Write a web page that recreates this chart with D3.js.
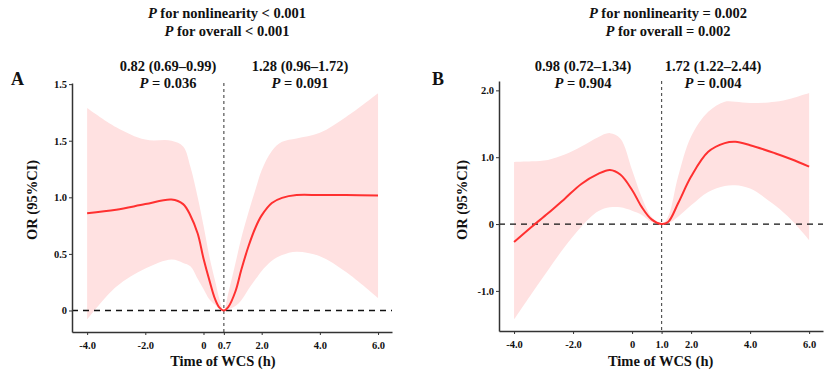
<!DOCTYPE html>
<html>
<head>
<meta charset="utf-8">
<script src="https://cdn.jsdelivr.net/npm/d3@7"></script>
<style>
  body { margin: 0; background: #fff; }
  text { font-family: "Liberation Serif", "Times New Roman", serif; font-weight: bold; fill: #111; }
</style>
</head>
<body>
<div id="chart"></div>
<script>
// panel A: time of WCS vs OR, knot at 0.7
const xA = [-4.0, -3.0, -2.0, -1.1, -0.7, -0.45, -0.2, 0.0, 0.2, 0.4, 0.55, 0.7, 0.85, 1.1, 1.3, 1.55, 1.8, 2.0, 2.35, 2.7, 3.2, 4.0, 4.9, 6.0];
const fitA = [0.86, 0.89, 0.94, 0.98, 0.94, 0.84, 0.68, 0.46, 0.27, 0.10, 0.025, 0, 0.03, 0.17, 0.36, 0.57, 0.74, 0.84, 0.95, 0.995, 1.02, 1.02, 1.02, 1.015];
const lowA = [-0.08, 0.21, 0.37, 0.45, 0.42, 0.39, 0.28, 0.19, 0.10, 0.05, 0.015, 0, 0.01, 0.04, 0.09, 0.19, 0.28, 0.35, 0.44, 0.49, 0.52, 0.48, 0.34, 0.11];
const upA = [1.79, 1.62, 1.51, 1.50, 1.45, 1.27, 1.0, 0.75, 0.48, 0.26, 0.10, 0, 0.15, 0.42, 0.64, 0.87, 1.08, 1.24, 1.41, 1.49, 1.52, 1.57, 1.71, 1.92];

// panel B: knot at 1.0
const xB = [-4.0, -3.4, -2.85, -2.28, -1.72, -1.15, -0.75, -0.4, 0.0, 0.32, 0.66, 1.0, 1.22, 1.56, 2.0, 2.58, 3.14, 3.5, 4.0, 4.84, 5.4, 6.0];
const fitB = [-0.27, -0.04, 0.16, 0.38, 0.60, 0.75, 0.81, 0.74, 0.51, 0.26, 0.07, 0, 0.03, 0.31, 0.71, 1.08, 1.21, 1.23, 1.18, 1.06, 0.97, 0.86];
const lowB = [-1.43, -1.04, -0.69, -0.34, -0.04, 0.19, 0.25, 0.25, 0.20, 0.14, 0.03, 0, 0.01, 0.11, 0.28, 0.48, 0.57, 0.58, 0.53, 0.28, 0.06, -0.24];
const upB = [0.93, 0.94, 0.96, 1.04, 1.16, 1.30, 1.36, 1.28, 0.81, 0.41, 0.11, 0, 0.11, 0.71, 1.31, 1.68, 1.83, 1.83, 1.81, 1.83, 1.88, 1.96];

// ticks
const xTicksA = [-4, -2, 0, 0.7, 2, 4, 6];
const xLabelsA = ["-4.0", "-2.0", "0", "0.7", "2.0", "4.0", "6.0"];
const yTicksA = [0, 0.5, 1.0, 1.5, 2.0];
const yLabelsA = ["0", "0.5", "1.0", "1.5", "1.5"];
const xTicksB = [-4, -2, 0, 1, 2, 4, 6];
const xLabelsB = ["-4.0", "-2.0", "0", "1.0", "2.0", "4.0", "6.0"];
const yTicksB = [-1, 0, 1, 2];
const yLabelsB = ["-1.0", "0", "1.0", "2.0"];

// text
const titlesA = ["for nonlinearity < 0.001", "for overall < 0.001"];
const statsA = [["0.82 (0.69–0.99)", "= 0.036"], ["1.28 (0.96–1.72)", "= 0.091"]];
const titlesB = ["for nonlinearity = 0.002", "for overall = 0.002"];
const statsB = [["0.98 (0.72–1.34)", "= 0.904"], ["1.72 (1.22–2.44)", "= 0.004"]];

const svg = d3.select("#chart").append("svg")
  .attr("width", 832)
  .attr("height", 370);

function italicP(sel, rest) {
  sel.append("tspan").attr("font-style", "italic").text("P");
  sel.append("tspan").text(" " + rest);
}

function panel(opt) {
  const g = svg.append("g");
  const x = d3.scaleLinear().domain(opt.xDom).range(opt.xRange);
  const y = d3.scaleLinear().domain(opt.yDom).range(opt.yRange);
  const rows = opt.xs.map((v, i) => ({ x: v, fit: opt.fit[i], lo: opt.lo[i], hi: opt.hi[i] }));
  const curve = d3.curveCatmullRom.alpha(0.5);

  g.append("path")
    .datum(rows)
    .attr("fill", "#ffe1e1")
    .attr("d", d3.area().curve(curve)
      .x(d => x(d.x)).y0(d => y(d.lo)).y1(d => y(d.hi)));

  // reference lines
  g.append("line")
    .attr("x1", opt.xRange[0]).attr("x2", opt.xRange[1])
    .attr("y1", y(0)).attr("y2", y(0))
    .attr("stroke", "#111").attr("stroke-width", 1.3)
    .attr("stroke-dasharray", "6,5");
  g.append("line")
    .attr("x1", x(opt.knot)).attr("x2", x(opt.knot))
    .attr("y1", opt.yRange[1]).attr("y2", opt.yRange[0])
    .attr("stroke", "#555").attr("stroke-width", 1.2)
    .attr("stroke-dasharray", "3,3");

  g.append("path")
    .datum(rows)
    .attr("fill", "none")
    .attr("stroke", "#ff3030")
    .attr("stroke-width", 2)
    .attr("d", d3.line().curve(curve).x(d => x(d.x)).y(d => y(d.fit)));

  const xAxis = g.append("g")
    .attr("transform", `translate(0,${opt.yRange[0]})`)
    .call(d3.axisBottom(x).tickValues(opt.xTicks).tickSize(3).tickSizeOuter(0)
      .tickFormat((d, i) => opt.xLabels[i]));
  const yAxis = g.append("g")
    .attr("transform", `translate(${opt.xRange[0]},0)`)
    .call(d3.axisLeft(y).tickValues(opt.yTicks).tickSize(3).tickSizeOuter(0)
      .tickFormat((d, i) => opt.yLabels[i]));
  [xAxis, yAxis].forEach(a => {
    a.select(".domain").attr("stroke", "#333").attr("stroke-width", 1.5);
    a.selectAll(".tick line").attr("stroke", "#333");
    a.selectAll(".tick text")
      .attr("font-family", "Liberation Serif")
      .attr("font-size", 10.5)
      .attr("font-weight", "bold")
      .attr("fill", "#222");
  });
  xAxis.selectAll(".tick text").attr("dy", "1.0em");
  yAxis.selectAll(".tick text").attr("dx", "0.1em");

  // axis titles
  g.append("text")
    .attr("x", x(opt.knot) - 1).attr("y", 366)
    .attr("text-anchor", "middle").attr("font-size", 14.5)
    .text("Time of WCS (h)");
  g.append("text")
    .attr("transform", `translate(${opt.yTitleX},200) rotate(-90)`)
    .attr("text-anchor", "middle").attr("font-size", 14.5)
    .text("OR (95%CI)");

  g.append("text")
    .attr("x", opt.letterX).attr("y", 85)
    .attr("font-size", 18)
    .text(opt.letter);

  // p-values on top
  opt.titles.forEach((t, i) => {
    g.append("text")
      .attr("x", opt.titleX).attr("y", 18 + i * 18)
      .attr("text-anchor", "middle").attr("font-size", 14.5)
      .call(italicP, t);
  });
  opt.stats.forEach((s, i) => {
    g.append("text")
      .attr("x", opt.statX[i]).attr("y", 71)
      .attr("text-anchor", "middle").attr("font-size", 14.5)
      .text(s[0]);
    g.append("text")
      .attr("x", opt.statX[i]).attr("y", 88)
      .attr("text-anchor", "middle").attr("font-size", 14.5)
      .call(italicP, s[1]);
  });
}

panel({
  xs: xA, fit: fitA, lo: lowA, hi: upA,
  xDom: [-4.52, 6.48], xRange: [72, 392],
  yDom: [-0.19, 2.01], yRange: [332, 83],
  knot: 0.7,
  xTicks: xTicksA, xLabels: xLabelsA, yTicks: yTicksA, yLabels: yLabelsA,
  titles: titlesA, stats: statsA,
  titleX: 227, statX: [168, 300], yTitleX: 37, letter: "A", letterX: 11
});

panel({
  xs: xB, fit: fitB, lo: lowB, hi: upB,
  xDom: [-4.51, 6.47], xRange: [499, 823],
  yDom: [-1.60, 2.14], yRange: [331, 81],
  knot: 1.0,
  xTicks: xTicksB, xLabels: xLabelsB, yTicks: yTicksB, yLabels: yLabelsB,
  titles: titlesB, stats: statsB,
  titleX: 668, statX: [583, 713], yTitleX: 467, letter: "B", letterX: 432
});
</script>
</body>
</html>
